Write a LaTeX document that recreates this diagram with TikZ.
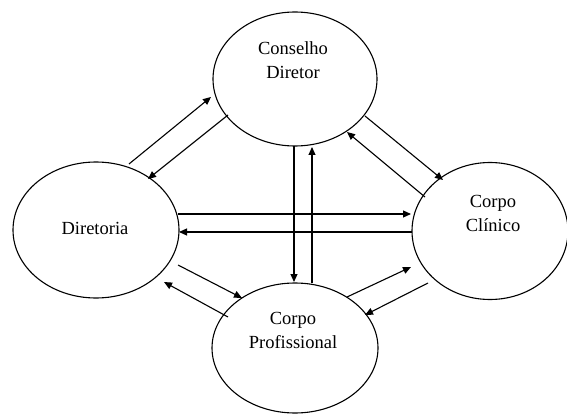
\documentclass[tikz,border=0pt]{standalone}
\usepackage{fontspec}
\setmainfont{Liberation Serif}
\usetikzlibrary{shapes.geometric,arrows.meta}
\begin{document}
\begin{tikzpicture}[x=1pt,y=-1pt,
  unit/.style={ellipse,draw,line width=1.1pt,inner sep=0pt},
  caption/.style={font=\fontsize{18.5}{24}\selectfont,align=center,inner sep=0pt},
  flow/.style={line width=1.1pt,-{Triangle[length=8pt,width=7pt]}}]
\useasboundingbox (0,0) rectangle (567,414);

% the four bodies
\node[unit,minimum width=164pt,minimum height=134pt] (cd) at (295,79) {};
\node[unit,minimum width=166pt,minimum height=136pt] (dir) at (96,230) {};
\node[unit,minimum width=156pt,minimum height=137pt] (cc) at (490,231) {};
\node[unit,minimum width=166pt,minimum height=130pt] (cp) at (295,348) {};

\node[caption] (tcd) at (293,60) {Conselho\\Diretor};
\node[caption] (tdir) at (95,228) {Diretoria};
\node[caption] (tcc) at (493,213) {Corpo\\Clínico};
\node[caption] (tcp) at (293,330) {Corpo\\Profissional};

% end points on the borders
\coordinate (a1) at (129,164); \coordinate (b1) at (211,97);
\coordinate (a2) at (228,115); \coordinate (b2) at (148,179);
\coordinate (a3) at (365,116); \coordinate (b3) at (443,180);
\coordinate (a4) at (425,197); \coordinate (b4) at (347,132);
\coordinate (a5) at (178,214); \coordinate (b5) at (411,214);
\coordinate (a6) at (412,232); \coordinate (b6) at (179,232);
\coordinate (a7) at (294,146); \coordinate (b7) at (294,282);
\coordinate (a8) at (312,283); \coordinate (b8) at (312,147);
\coordinate (a9) at (178,265); \coordinate (b9) at (242,298);
\coordinate (a10) at (228,317); \coordinate (b10) at (164,282);
\coordinate (a11) at (347,297); \coordinate (b11) at (411,267);
\coordinate (a12) at (428,283); \coordinate (b12) at (365,315);

\foreach \i in {1,...,12} \draw[flow] (a\i) -- (b\i);
\end{tikzpicture}
\end{document}
